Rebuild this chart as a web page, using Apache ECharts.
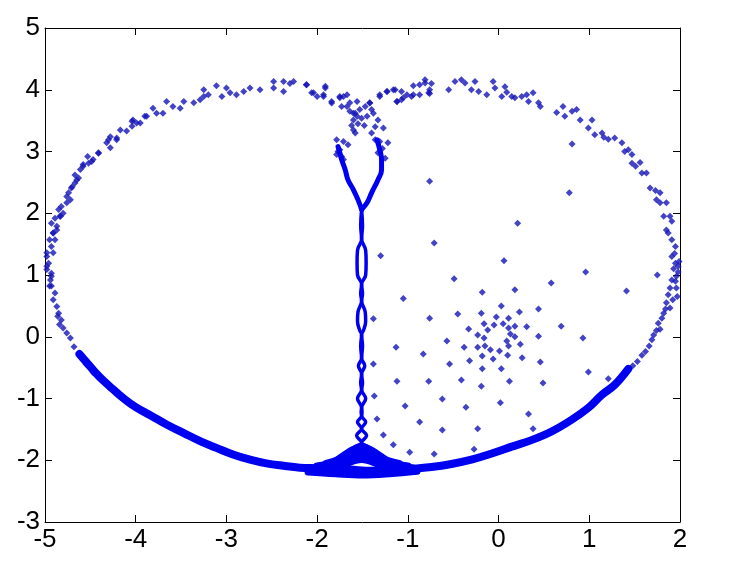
<!DOCTYPE html>
<html>
<head>
<meta charset="utf-8">
<script src="https://cdn.jsdelivr.net/npm/echarts@6/dist/echarts.min.js"></script>
<style>
html, body { margin: 0; padding: 0; background: #fff; }
#chart { width: 731px; height: 567px; }
</style>
</head>
<body>
<div id="chart"></div>
<script>
// axis ranges
const xRange = [-5, 2]
const yRange = [-3, 5]

// sparse points of the outer ring, upper left
const ringTopLeft = [
  [-4.98, 1.36], [-4.95, 1.57], [-4.98, 1.14], [-4.93, 0.98], [-4.95, 0.82], [-4.91, 1.68],
  [-4.93, 1.84], [-4.87, 1.73], [-4.83, 1.95], [-4.80, 2.0], [-4.85, 2.06], [-4.76, 2.17],
  [-4.72, 2.22], [-4.74, 2.33], [-4.70, 2.43], [-4.65, 2.54], [-4.67, 2.62], [-4.61, 2.71],
  [-4.58, 2.76], [-4.52, 2.81], [-4.53, 2.92], [-4.47, 2.87], [-4.41, 2.97], [-4.32, 3.14],
  [-4.28, 3.24], [-4.21, 3.22], [-4.17, 3.35], [-4.10, 3.33], [-4.04, 3.41], [-4.03, 3.51],
  [-3.95, 3.46], [-3.88, 3.57], [-3.81, 3.70], [-3.77, 3.62], [-3.70, 3.62], [-3.66, 3.81],
  [-3.59, 3.73], [-3.51, 3.70], [-3.47, 3.81], [-3.36, 3.79], [-3.29, 3.84], [-3.25, 3.89],
  [-3.20, 3.92], [-3.25, 4.0], [-3.11, 4.065], [-3.05, 3.89], [-3.0, 4.03], [-2.96, 3.95],
  [-2.89, 3.92], [-2.81, 3.97], [-2.74, 4.03], [-2.63, 4.0], [-2.48, 4.135], [-2.48, 4.03],
  [-2.37, 4.135], [-2.37, 3.97], [-2.30, 4.1], [-2.26, 4.135], [-2.12, 4.08], [-2.06, 3.95],
  [-2.0, 3.89], [-1.91, 4.03], [-1.93, 3.92], [-1.84, 3.81], [-1.75, 3.87], [-1.71, 3.89],
  [-1.67, 3.73], [-1.64, 3.79], [-1.60, 3.62], [-1.56, 3.57]
]

// sparse points of the outer ring, upper right
const ringTopRight = [
  [-1.42, 3.79], [-1.31, 3.89], [-1.23, 3.97], [-1.14, 4.0], [-1.12, 3.81], [-1.07, 3.97],
  [-1.05, 3.87], [-0.96, 3.89], [-0.94, 4.065], [-0.87, 3.92], [-0.81, 4.16], [-0.76, 4.0],
  [-0.76, 3.94], [-0.74, 4.10], [-0.55, 4.0], [-0.48, 4.135], [-0.41, 4.16], [-0.37, 4.11],
  [-0.30, 4.0], [-0.26, 4.135], [-0.22, 3.97], [-0.13, 3.92], [-0.06, 4.135], [-0.04, 4.03],
  [0.035, 3.89], [0.07, 4.05], [0.09, 3.96], [0.145, 3.89], [0.18, 3.87], [0.255, 3.89],
  [0.31, 3.92], [0.33, 3.81], [0.38, 3.95], [0.44, 3.79], [0.46, 3.73], [0.64, 3.63],
  [0.71, 3.73], [0.73, 3.57], [0.81, 3.65], [0.86, 3.68], [0.90, 3.51], [0.99, 3.38],
  [1.03, 3.51], [1.06, 3.27], [1.14, 3.30], [1.16, 3.23], [1.21, 3.20], [1.28, 3.22],
  [1.36, 3.14], [1.39, 3.0], [1.43, 3.03], [1.47, 2.95], [1.47, 2.81], [1.51, 2.76],
  [1.56, 2.82], [1.58, 2.65], [1.63, 2.65], [1.67, 2.41], [1.73, 2.37], [1.78, 2.33],
  [1.74, 2.22], [1.78, 2.17], [1.85, 2.17], [1.82, 1.95], [1.89, 1.95], [1.91, 1.87],
  [1.85, 1.73], [1.87, 1.68], [1.91, 1.57], [1.95, 1.46], [1.91, 1.30], [1.95, 1.19],
  [1.98, 1.14], [1.96, 0.98], [1.91, 0.92], [1.98, 1.05], [1.93, 1.10], [1.99, 1.22],
  [1.94, 1.35], [1.95, 0.90], [1.89, 0.79], [1.96, 0.79], [1.97, 0.65], [1.92, 0.60],
  [1.87, 0.68], [1.85, 0.55], [1.89, 0.465], [1.84, 0.45], [1.82, 0.38], [1.80, 0.30],
  [1.76, 0.22], [1.78, 0.12], [1.74, 0.10], [1.71, 0.03], [1.69, -0.05], [1.66, -0.15],
  [1.62, -0.24], [1.58, -0.30], [1.53, -0.40], [1.48, -0.47]
]

// left edge of the ring
const ringLeft = [
  [-4.98, 1.30], [-4.96, 1.19], [-4.98, 1.09], [-4.93, 1.03], [-4.94, 0.92], [-4.93, 0.82],
  [-4.89, 0.71], [-4.91, 0.60], [-4.87, 0.49], [-4.85, 0.38], [-4.82, 0.27], [-4.80, 0.14],
  [-4.76, 0.06], [-4.91, 1.68], [-4.89, 1.57], [-4.93, 1.46], [-4.91, 1.36], [-4.87, 1.79],
  [-4.89, 1.92], [-4.835, 1.95], [-4.82, 2.11], [-4.76, 2.27], [-4.71, 2.41], [-4.67, 2.49],
  [-4.63, 2.57], [-4.58, 2.79], [-4.485, 2.84], [-4.41, 2.98], [-4.30, 3.19], [-4.28, 3.06],
  [-4.21, 3.19], [-4.04, 3.49], [-3.99, 3.46], [-3.90, 3.57], [-4.86, 0.33], [-4.84, 0.20],
  [-4.72, -0.02], [-4.68, -0.16], [-4.62, -0.30], [-4.55, -0.44], [-4.47, -0.58], [-4.40, -0.66]
]

// scattered points where the stem splits near the top
const stemTop = [
  [-2.115, 4.08], [-2.04, 3.95], [-1.91, 4.055], [-1.93, 3.89], [-1.84, 3.785], [-1.75, 3.89],
  [-1.67, 3.92], [-1.56, 3.81], [-1.73, 3.73], [-1.64, 3.65], [-1.58, 3.62], [-1.53, 3.68],
  [-1.47, 3.73], [-1.42, 3.785], [-1.40, 3.68], [-1.60, 3.51], [-1.51, 3.54], [-1.45, 3.57],
  [-1.38, 3.62], [-1.31, 3.92], [-1.23, 3.97], [-1.16, 4.0], [-1.12, 3.81], [-1.07, 3.84],
  [-1.01, 3.92], [-0.94, 3.92], [-0.87, 4.08], [-0.81, 4.11], [-0.77, 3.95], [-1.33, 3.51],
  [-1.27, 3.38], [-1.60, 3.35], [-1.58, 3.30], [-1.40, 3.30], [-1.36, 3.19], [-1.785, 3.19],
  [-1.71, 3.16], [-1.66, 3.11], [-1.31, 3.16], [-1.22, 3.14], [-1.75, 3.03], [-1.73, 2.92],
  [-1.33, 2.98], [-1.25, 2.89], [-1.785, 2.95], [-1.71, 2.87], [-1.55, 3.45], [-1.48, 3.42],
  [-1.62, 3.42], [-1.36, 3.40], [-1.77, 3.00], [-1.28, 3.05]
]

// isolated points inside the right lobe
const inside = [
  [0.81, 3.12], [-0.76, 2.52], [0.78, 2.33], [0.21, 1.84], [-0.71, 1.52], [-1.30, 1.31],
  [0.06, 1.23], [0.96, 1.05], [-0.49, 0.94], [0.58, 0.87], [-0.18, 0.72], [0.18, 0.76],
  [1.41, 0.74], [-1.05, 0.62], [1.75, 1.0],
  [-1.38, 0.29], [-0.76, 0.30], [-0.45, 0.37], [-0.19, 0.38], [0.03, 0.50], [0.23, 0.40],
  [0.44, 0.45], [-0.025, 0.32], [0.11, 0.30], [-0.16, 0.21], [-0.05, 0.19], [0.05, 0.21],
  [0.18, 0.17], [0.31, 0.16], [0.69, 0.17], [-0.33, 0.125], [-0.12, 0.11], [0.11, 0.14],
  [-0.23, 0.03], [0.13, 0.045], [-0.16, -0.02], [0.18, 0.0], [0.44, 0.01], [0.93, -0.02],
  [-0.57, -0.07], [0.09, -0.07], [0.24, -0.12], [-1.13, -0.17], [-0.38, -0.17], [-0.23, -0.17],
  [-0.15, -0.15], [0.11, -0.15], [-0.09, -0.21], [0.01, -0.23], [-0.83, -0.28], [-0.18, -0.31],
  [0.10, -0.30], [0.26, -0.34], [-0.32, -0.39], [-0.06, -0.36], [0.46, -0.41], [-1.38, -0.44],
  [-0.54, -0.44], [-0.18, -0.52], [0.03, -0.52], [0.99, -0.57], [-1.12, -0.72], [-0.77, -0.72],
  [-0.41, -0.70], [0.12, -0.72], [0.49, -0.75], [1.21, -0.68], [-0.19, -0.80], [-1.37, -0.96],
  [-0.62, -1.01], [-1.03, -1.12], [-0.36, -1.14], [0.02, -1.07], [0.33, -1.25], [-1.34, -1.33],
  [-0.87, -1.38], [-0.62, -1.51], [-0.23, -1.49], [0.38, -1.49], [-1.27, -1.59], [-1.16, -1.75],
  [-0.98, -1.87], [-0.71, -1.90], [-0.27, -1.82]
]

// dense lower arc of the ring
const lowerArc = [
  [-4.62, -0.28], [-4.55, -0.40], [-4.45, -0.57], [-4.35, -0.72],
  [-4.25, -0.85], [-4.14, -0.99], [-4.0, -1.14], [-3.84, -1.27], [-3.66, -1.42], [-3.47, -1.56],
  [-3.29, -1.69], [-3.11, -1.80], [-2.92, -1.91], [-2.74, -1.99], [-2.56, -2.05], [-2.37, -2.09],
  [-2.19, -2.12], [-2.0, -2.13], [-1.82, -2.14], [-1.64, -2.15], [-1.40, -2.17], [-1.18, -2.16],
  [-0.96, -2.14], [-0.74, -2.11], [-0.52, -2.06], [-0.30, -1.99], [-0.075, -1.89], [0.145, -1.78],
  [0.37, -1.67], [0.59, -1.53], [0.81, -1.34], [0.99, -1.15], [1.14, -0.94], [1.28, -0.78],
  [1.43, -0.52]
]

// flared base of the stem, row by row from the top
const baseRow1 = [
  [-1.9, -2.06], [-1.72, -1.97], [-1.51, -1.78], [-1.30, -1.97], [-1.1, -2.06]
]
const baseRow2 = [
  [-2.0, -2.1], [-1.75, -2.02], [-1.51, -1.88], [-1.27, -2.02], [-1.0, -2.1]
]
const baseRow3 = [
  [-2.05, -2.14], [-1.75, -2.08], [-1.51, -1.98], [-1.27, -2.08], [-0.95, -2.13]
]
const baseRow4 = [
  [-2.1, -2.19], [-1.8, -2.22], [-1.5, -2.24], [-1.2, -2.22], [-0.9, -2.18]
]

// the two strands of the stem
const stemLeft = [
  [-1.51, 2.06], [-1.52, 1.8], [-1.51, 1.58], [-1.555, 1.4], [-1.56, 1.2], [-1.555, 1.0],
  [-1.51, 0.85], [-1.52, 0.7], [-1.51, 0.58], [-1.55, 0.4], [-1.555, 0.25], [-1.53, 0.1],
  [-1.51, 0.04], [-1.52, -0.15], [-1.51, -0.35], [-1.545, -0.47], [-1.51, -0.6], [-1.52, -0.75],
  [-1.51, -0.86], [-1.555, -1.0], [-1.51, -1.15], [-1.515, -1.22], [-1.51, -1.28], [-1.555, -1.38],
  [-1.51, -1.49], [-1.565, -1.6], [-1.51, -1.71], [-1.64, -1.82], [-1.82, -2.0]
]
const stemRight = [
  [-1.51, 2.06], [-1.50, 1.8], [-1.51, 1.58], [-1.465, 1.4], [-1.46, 1.2], [-1.465, 1.0],
  [-1.51, 0.85], [-1.50, 0.7], [-1.51, 0.58], [-1.47, 0.4], [-1.465, 0.25], [-1.49, 0.1],
  [-1.51, 0.04], [-1.50, -0.15], [-1.51, -0.35], [-1.475, -0.47], [-1.51, -0.6], [-1.50, -0.75],
  [-1.51, -0.86], [-1.465, -1.0], [-1.51, -1.15], [-1.505, -1.22], [-1.51, -1.28], [-1.465, -1.38],
  [-1.51, -1.49], [-1.455, -1.6], [-1.51, -1.71], [-1.38, -1.82], [-1.20, -2.0]
]

// the Y split at the top of the stem
const branchLeft = [
  [-1.51, 2.06], [-1.55, 2.22], [-1.60, 2.38], [-1.66, 2.54], [-1.69, 2.70], [-1.73, 2.87],
  [-1.75, 2.98], [-1.77, 3.08]
]
const branchRight = [
  [-1.51, 2.06], [-1.45, 2.17], [-1.40, 2.33], [-1.33, 2.54], [-1.29, 2.70], [-1.29, 2.87],
  [-1.31, 3.03], [-1.34, 3.19]
]

const DOT = '#1414b8'
const BAND = '#0000f0'

function dots(data) {
  return {
    type: 'scatter',
    data: data,
    symbol: 'diamond',
    symbolSize: 7,
    itemStyle: { color: DOT },
    silent: true
  }
}

function band(data, width) {
  return {
    type: 'line',
    data: data,
    symbol: 'none',
    smooth: 0.4,
    lineStyle: { width: width, color: BAND, cap: 'round', join: 'round' },
    silent: true
  }
}

function xAxis(position, showLabel) {
  return {
    type: 'value',
    position: position,
    min: xRange[0],
    max: xRange[1],
    interval: 1,
    axisLine: { show: true, onZero: false, lineStyle: { color: '#000', width: 1 } },
    axisTick: { show: true, inside: true, length: 7, lineStyle: { color: '#000' } },
    axisLabel: {
      show: showLabel,
      color: '#000',
      fontSize: 26,
      fontFamily: 'Liberation Sans',
      margin: 5,
      showMinLabel: true,
      showMaxLabel: true
    },
    splitLine: { show: false }
  }
}

function yAxis(position, showLabel) {
  return {
    type: 'value',
    position: position,
    min: yRange[0],
    max: yRange[1],
    interval: 1,
    axisLine: { show: true, onZero: false, lineStyle: { color: '#000', width: 1 } },
    axisTick: { show: true, inside: true, length: 7, lineStyle: { color: '#000' } },
    axisLabel: {
      show: showLabel,
      color: '#000',
      fontSize: 26,
      fontFamily: 'Liberation Sans',
      margin: 5,
      showMinLabel: true,
      showMaxLabel: true
    },
    splitLine: { show: false }
  }
}

const chart = echarts.init(document.getElementById('chart'))
chart.setOption({
  animation: false,
  backgroundColor: '#fff',
  grid: { left: 45, top: 28, width: 635, height: 494 },
  xAxis: [xAxis('bottom', true), xAxis('top', false)],
  yAxis: [yAxis('left', true), yAxis('right', false)],
  series: [
    band(lowerArc, 8),
    band(baseRow1, 8),
    band(baseRow2, 8),
    band(baseRow3, 8),
    band(baseRow4, 7),
    band(stemLeft, 3.5),
    band(stemRight, 3.5),
    band(branchLeft, 5),
    band(branchRight, 5),
    dots(ringTopLeft),
    dots(ringTopRight),
    dots(ringLeft),
    dots(stemTop),
    dots(inside)
  ]
})
</script>
</body>
</html>
